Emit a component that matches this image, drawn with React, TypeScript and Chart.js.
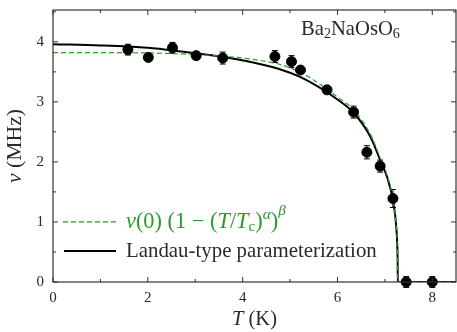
import React, { useEffect, useRef } from "react";
import { Chart, registerables } from "chart.js";
Chart.register(...registerables);

// Measured data points
const tempK = [1.58, 2.01, 2.52, 3.02, 3.58, 4.68, 5.03, 5.22, 5.78, 6.34, 6.62, 6.9, 7.17, 7.45, 8.0];
const nuMHz = [3.87, 3.74, 3.9, 3.77, 3.73, 3.755, 3.67, 3.53, 3.2, 2.83, 2.16, 1.93, 1.39, 0.0, 0.0];
const nuErr = [0.09, 0.0, 0.09, 0.0, 0.1, 0.1, 0.1, 0.0, 0.0, 0.1, 0.11, 0.1, 0.15, 0.09, 0.09];

// Landau-type parameterization (black solid)
const landauT = [0, 1, 2, 2.7, 3.5, 4.2, 4.8, 5.2, 5.6, 6.0, 6.35, 6.7, 6.9, 7.05, 7.18, 7.24, 7.26, 7.268, 7.272, 8.5];
const landauNu = [3.96, 3.94, 3.9, 3.84, 3.76, 3.66, 3.54, 3.42, 3.25, 3.04, 2.81, 2.41, 2.03, 1.74, 1.32, 0.92, 0.64, 0.4, 0, 0];

// Power-law fit (green dashed)
const powerT = [0, 1, 2, 3, 3.5, 4.2, 4.8, 5.2, 5.6, 6.0, 6.35, 6.7, 6.9, 7.05, 7.18, 7.24, 7.26, 7.268, 7.274, 8.5];
const powerNu = [3.82, 3.82, 3.815, 3.79, 3.765, 3.71, 3.62, 3.5, 3.31, 3.08, 2.86, 2.45, 2.07, 1.77, 1.33, 0.93, 0.65, 0.4, 0, 0];

const xMajor = [0, 2, 4, 6, 8];
const xMinor = [1, 3, 5, 7];
const yMajor = [0, 1, 2, 3, 4];
const yMinor = [0.5, 1.5, 2.5, 3.5, 4.5];

const GREEN = "#2a9a2a";
const TEXT = "#2a2a2a";
const SERIF = '"Liberation Serif", "DejaVu Serif", serif';

type Run = { t: string; it?: boolean; size: number; dy?: number };

function drawRuns(ctx: CanvasRenderingContext2D, x: number, y: number, runs: Run[], k = 1) {
  for (const r of runs) {
    ctx.font = `${r.it ? "italic " : ""}${r.size * k}px ${SERIF}`;
    ctx.fillText(r.t, x, y + (r.dy || 0) * k);
    x += ctx.measureText(r.t).width;
  }
  return x;
}

function runsWidth(ctx: CanvasRenderingContext2D, runs: Run[]) {
  let w = 0;
  for (const r of runs) {
    ctx.font = `${r.it ? "italic " : ""}${r.size}px ${SERIF}`;
    w += ctx.measureText(r.t).width;
  }
  return w;
}

function fitK(ctx: CanvasRenderingContext2D, runs: Run[], target: number, maxK = 1.3) {
  return Math.min(maxK, target / runsWidth(ctx, runs));
}

function drawFit(ctx: CanvasRenderingContext2D, x: number, y: number, runs: Run[], target: number) {
  return drawRuns(ctx, x, y, runs, fitK(ctx, runs, target));
}

const zeroPad = (s: any) => {
  s.paddingLeft = 0;
  s.paddingRight = 0;
  s.paddingTop = 0;
  s.paddingBottom = 0;
  s.getPadding = () => ({ left: 0, right: 0, top: 0, bottom: 0 });
};

const decorPlugin = {
  id: "decor",
  beforeDatasetsDraw(chart: any) {
    const ctx: CanvasRenderingContext2D = chart.ctx;
    const xs = chart.scales.x;
    const ys = chart.scales.y;
    ctx.save();
    ctx.strokeStyle = "#000";
    ctx.lineWidth = 1;
    for (let i = 0; i < tempK.length; i++) {
      const e = nuErr[i];
      if (!e) continue;
      const px = xs.getPixelForValue(tempK[i]);
      const y1 = ys.getPixelForValue(nuMHz[i] + e);
      const y2 = ys.getPixelForValue(nuMHz[i] - e);
      ctx.beginPath();
      ctx.moveTo(px, y1);
      ctx.lineTo(px, y2);
      ctx.moveTo(px - 3, y1);
      ctx.lineTo(px + 3, y1);
      ctx.moveTo(px - 3, y2);
      ctx.lineTo(px + 3, y2);
      ctx.stroke();
    }
    ctx.restore();
  },
  afterDraw(chart: any) {
    const ctx: CanvasRenderingContext2D = chart.ctx;
    const a = chart.chartArea;
    const xs = chart.scales.x;
    const ys = chart.scales.y;
    ctx.save();
    // frame
    ctx.strokeStyle = "#333";
    ctx.lineWidth = 1.2;
    ctx.strokeRect(a.left, a.top, a.right - a.left, a.bottom - a.top);
    // ticks inward on all sides
    ctx.lineWidth = 1;
    ctx.beginPath();
    const tickX = (v: number, len: number) => {
      const p = xs.getPixelForValue(v);
      ctx.moveTo(p, a.bottom);
      ctx.lineTo(p, a.bottom - len);
      ctx.moveTo(p, a.top);
      ctx.lineTo(p, a.top + len);
    };
    const tickY = (v: number, len: number) => {
      const p = ys.getPixelForValue(v);
      ctx.moveTo(a.left, p);
      ctx.lineTo(a.left + len, p);
      ctx.moveTo(a.right, p);
      ctx.lineTo(a.right - len, p);
    };
    xMajor.forEach((v) => tickX(v, 5));
    xMinor.forEach((v) => tickX(v, 3));
    yMajor.forEach((v) => tickY(v, 5));
    yMinor.forEach((v) => tickY(v, 3));
    ctx.stroke();

    // title
    ctx.fillStyle = TEXT;
    ctx.textBaseline = "alphabetic";
    ctx.textAlign = "left";
    const fs = 19;
    const sub = 13;
    drawFit(ctx, 301, 35, [
      { t: "Ba", size: fs },
      { t: "2", size: sub, dy: 3 },
      { t: "NaOsO", size: fs },
      { t: "6", size: sub, dy: 3 },
    ], 99);

    // legend
    const legY1 = ys.getPixelForValue(1);
    const legY2 = legY1 + 29;
    ctx.strokeStyle = GREEN;
    ctx.lineWidth = 1.2;
    ctx.setLineDash([5, 3]);
    ctx.beginPath();
    ctx.moveTo(63, legY1);
    ctx.lineTo(116, legY1);
    ctx.stroke();
    ctx.setLineDash([]);
    ctx.strokeStyle = "#000";
    ctx.lineWidth = 2;
    ctx.beginPath();
    ctx.moveTo(64, legY2);
    ctx.lineTo(116, legY2);
    ctx.stroke();

    ctx.fillStyle = GREEN;
    drawFit(ctx, 126, legY1 + 6, [
      { t: "ν", it: true, size: fs },
      { t: "(0) (1 − (", size: fs },
      { t: "T", it: true, size: fs },
      { t: "/", size: fs },
      { t: "T", it: true, size: fs },
      { t: "c", size: sub, dy: 3 },
      { t: ")", size: fs },
      { t: "α", it: true, size: sub, dy: -8 },
      { t: ")", size: fs },
      { t: "β", it: true, size: sub, dy: -11 },
    ], 160);
    ctx.fillStyle = TEXT;
    drawFit(ctx, 126, legY2 + 6, [{ t: "Landau-type parameterization", size: fs }], 251);

    // x title
    const xr: Run[] = [
      { t: "T", it: true, size: fs },
      { t: " (K)", size: fs },
    ];
    const kx = fitK(ctx, xr, 45);
    drawRuns(ctx, (a.left + a.right) / 2 - 22.5, 325, xr, kx);

    // y title
    const yr: Run[] = [
      { t: "ν", it: true, size: fs },
      { t: " (MHz)", size: fs },
    ];
    const ky = fitK(ctx, yr, 74);
    ctx.save();
    ctx.translate(21, (a.top + a.bottom) / 2);
    ctx.rotate(-Math.PI / 2);
    drawRuns(ctx, -37, 0, yr, ky);
    ctx.restore();

    ctx.restore();
  },
};

export default function App() {
  const ref = useRef<HTMLCanvasElement>(null);
  useEffect(() => {
    if (!ref.current) return;
    const chart = new Chart(ref.current, {
      type: "scatter",
      data: {
        datasets: [
          {
            type: "scatter",
            label: "data",
            data: tempK.map((t, i) => ({ x: t, y: nuMHz[i] })),
            backgroundColor: "#000",
            borderColor: "#000",
            pointRadius: 5,
            pointHoverRadius: 5,
            clip: false,
          },
          {
            type: "line",
            label: "power law",
            data: powerT.map((t, i) => ({ x: t, y: powerNu[i] })),
            borderColor: GREEN,
            borderWidth: 1.2,
            borderDash: [5, 3],
            pointRadius: 0,
            fill: false,
            cubicInterpolationMode: "monotone",
          },
          {
            type: "line",
            label: "Landau",
            data: landauT.map((t, i) => ({ x: t, y: landauNu[i] })),
            borderColor: "#000",
            borderWidth: 2,
            pointRadius: 0,
            fill: false,
            cubicInterpolationMode: "monotone",
          },
        ],
      } as any,
      options: {
        animation: false,
        responsive: false,
        maintainAspectRatio: false,
        layout: { autoPadding: false, padding: { top: 10, right: 1, left: 0, bottom: 0 } },
        plugins: { legend: { display: false }, tooltip: { enabled: false } },
        scales: {
          x: {
            type: "linear",
            min: 0,
            max: 8.5,
            grid: { display: false, drawTicks: false },
            border: { display: false },
            ticks: {
              stepSize: 2,
              includeBounds: false,
              padding: 7,
              color: TEXT,
              font: { family: SERIF, size: 15 },
              maxRotation: 0,
              callback: (v: any) => (Number.isInteger(v) ? String(v) : ""),
            },
            afterFit: (s: any) => {
              s.height = 50;
              zeroPad(s);
            },
          },
          y: {
            type: "linear",
            min: 0,
            max: 4.53,
            grid: { display: false, drawTicks: false },
            border: { display: false },
            ticks: {
              stepSize: 1,
              includeBounds: false,
              padding: 9,
              color: TEXT,
              font: { family: SERIF, size: 15 },
              callback: (v: any) => (Number.isInteger(v) ? String(v) : ""),
            },
            afterFit: (s: any) => {
              s.width = 53;
              zeroPad(s);
            },
          },
        },
      } as any,
      plugins: [decorPlugin],
    });
    return () => chart.destroy();
  }, []);
  return (
    <div style={{ position: "fixed", left: 0, top: 0, width: 457, height: 332, background: "#fff" }}>
      <canvas ref={ref} width={457} height={332} style={{ display: "block" }} />
    </div>
  );
}
